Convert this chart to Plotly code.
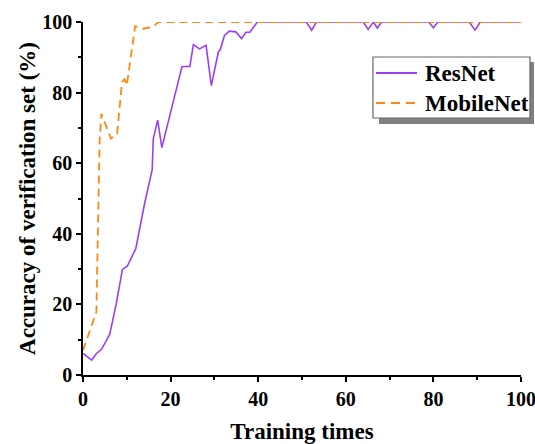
import plotly.graph_objects as go

# ---- data ----
resnet_x = [0, 2, 3.05, 4.2, 6.1, 7.6, 9.0, 10.1, 12.05, 14.1, 15.8, 16.05, 17.05, 18.0,
            22.6, 24.4, 25.2, 26.6, 28.1, 29.3, 30.9, 31.3, 32.3, 33.4, 34.9, 36.2, 37.2,
            38.1, 39.8, 51.0, 52.2, 53.3, 64.0, 65.1, 66.3, 67.2, 68.2, 78.9, 80.0, 81.0,
            88.2, 89.5, 90.7, 100]
resnet_y = [6.1, 4.2, 6.1, 7.2, 11.5, 20.2, 29.9, 30.8, 35.8, 48.8, 58.2, 67.0, 72.2, 64.4,
            87.4, 87.4, 93.6, 92.4, 93.4, 82.0, 91.5, 92.0, 96.2, 97.4, 97.2, 95.3, 97.1,
            97.1, 100, 100, 97.7, 100, 100, 97.9, 100, 98.3, 100, 100, 98.4, 100,
            100, 97.7, 100, 100]

mobilenet_x = [0, 1.5, 2.4, 3.05, 3.8, 4.2, 6.4, 7.8, 8.9, 9.5, 10.0, 11.0, 11.9, 13.8,
               15.9, 17.2, 100]
mobilenet_y = [7.0, 12.6, 16.0, 17.8, 66.5, 74.0, 67.0, 68.4, 83.0, 83.8, 82.0, 91.5, 98.8,
               98.1, 98.6, 100, 100]

series_names = ["ResNet", "MobileNet"]
x_title = "Training times"
y_title = "Accuracy of verification set (%)"

FONT = "Liberation Serif"
PURPLE = "#9B3FF6"
ORANGE = "#FF8811"
RES_DASH = "solid"
MOB_DASH = "8px,5px"

fig = go.Figure()
fig.add_trace(go.Scatter(x=resnet_x, y=resnet_y, mode="lines", name=series_names[0],
                         line=dict(color=PURPLE, width=1.6, dash=RES_DASH), cliponaxis=False))
fig.add_trace(go.Scatter(x=mobilenet_x, y=mobilenet_y, mode="lines", name=series_names[1],
                         line=dict(color=ORANGE, width=1.8, dash=MOB_DASH), cliponaxis=False))

axis_common = dict(
    range=[0, 100], showline=True, linecolor="black", linewidth=1.5,
    ticks="outside", ticklen=5, tickwidth=1.5, tickcolor="black",
    dtick=20, tick0=0, showgrid=False, zeroline=False, automargin=False,
    minor=dict(ticks="outside", ticklen=3, tickwidth=1.5, tickcolor="black", dtick=10),
    tickfont=dict(family=FONT, size=20, color="black", weight="bold"),
)

# legend drawn as a boxed, shadowed key (paper coordinates of the plot area)
LX0, LX1, LY0, LY1 = 0.662, 1.0205, 0.728, 0.9008
SX0, SX1, SY0, SY1 = 0.6758, 1.0297, 0.711, 0.8867
ROW_Y = [0.8555, 0.7705]
SAMPLE_X = [0.6689, 0.7626]
TEXT_X = 0.7763

shapes = [
    dict(type="rect", xref="paper", yref="paper", x0=SX0, x1=SX1, y0=SY0, y1=SY1,
         fillcolor="#808080", line=dict(width=0), layer="above"),
    dict(type="rect", xref="paper", yref="paper", x0=LX0, x1=LX1, y0=LY0, y1=LY1,
         fillcolor="white", line=dict(color="#666666", width=1.2), layer="above"),
]
annotations = []
for name, color, dash, yy in [(series_names[0], PURPLE, RES_DASH, ROW_Y[0]),
                              (series_names[1], ORANGE, "9px,6px", ROW_Y[1])]:
    shapes.append(dict(type="line", xref="paper", yref="paper",
                       x0=SAMPLE_X[0], x1=SAMPLE_X[1], y0=yy, y1=yy,
                       line=dict(color=color, width=1.8, dash=dash), layer="above"))
    annotations.append(dict(text=name, xref="paper", yref="paper", x=TEXT_X, y=yy,
                            xanchor="left", yanchor="middle", showarrow=False,
                            font=dict(family=FONT, size=23, color="black", weight="bold")))

# figure is 8px wider than the window so the "100" label is kept and cut by the page edge
fig.update_layout(
    width=543, height=444,
    margin=dict(l=83, r=22, t=22, b=69),
    paper_bgcolor="white", plot_bgcolor="white",
    showlegend=False,
    xaxis=dict(axis_common, title=dict(text=x_title, standoff=28,
               font=dict(family=FONT, size=23, color="black", weight="bold"))),
    yaxis=dict(axis_common, title=dict(text=y_title, standoff=0,
               font=dict(family=FONT, size=23, color="black", weight="bold"))),
    shapes=shapes,
    annotations=annotations,
)

fig.write_html("out.html",
               config={"displayModeBar": False},
               post_script="document.body.style.margin='0';"
                           "document.body.style.overflow='hidden';"
                           "document.documentElement.style.overflow='hidden';")
